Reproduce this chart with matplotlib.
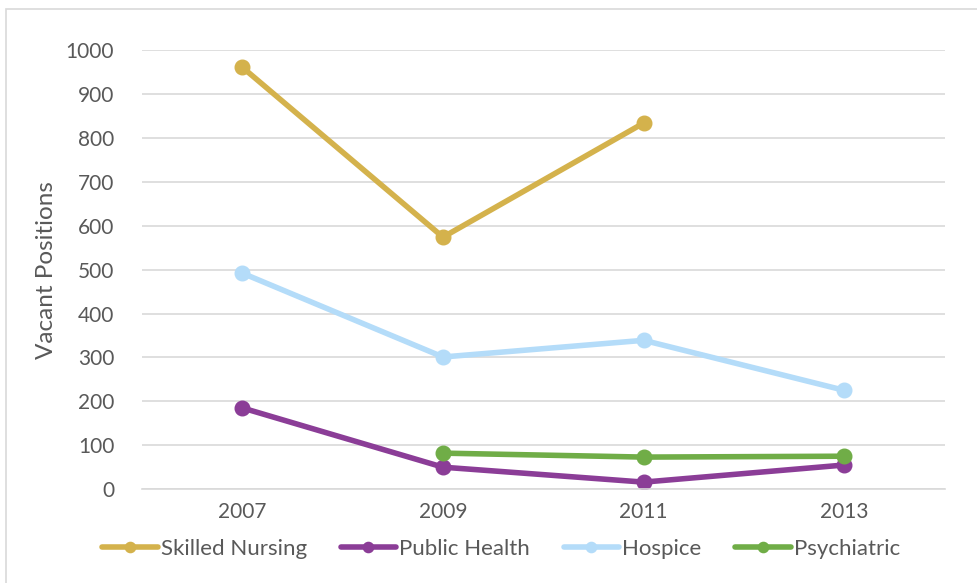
import matplotlib.pyplot as plt
from matplotlib.patches import Rectangle
import numpy as np

plt.rcParams['font.family'] = ['Lato', 'DejaVu Sans']

years = ['2007', '2009', '2011', '2013']
skilled_nursing = [961, 574, 834, None]
public_health = [185, 50, 16, 55]
hospice = [492, 301, 339, 225]
psychiatric = [None, 82, 73, 75]

series = [
    ('Skilled Nursing', skilled_nursing, '#D4B24C'),
    ('Public Health', public_health, '#8B3D97'),
    ('Hospice', hospice, '#B4DCF9'),
    ('Psychiatric', psychiatric, '#70AD47'),
]

fig = plt.figure(figsize=(9.77, 5.83), dpi=100)
ax = fig.add_axes([0.1453, 0.161, 0.8217, 0.753])

# chart border
fig.patches.append(Rectangle((0.006, -0.01), 1.1, 0.995, transform=fig.transFigure,
                             fill=False, edgecolor='#D9D9D9', linewidth=1.2))

x = np.arange(len(years))
for name, vals, color in series:
    v = np.array([np.nan if a is None else a for a in vals], dtype=float)
    ax.plot(x, v, color=color, linewidth=4, marker='o', markersize=10.5,
            solid_capstyle='round', label=name)

ax.set_xlim(-0.5, 3.5)
ax.set_ylim(0, 1000)
ax.set_yticks(range(0, 1001, 100))
ax.set_xticks(x)
ax.set_xticklabels(years)
ax.grid(axis='y', color='#D9D9D9', linewidth=1.2)
ax.set_axisbelow(True)
for s in ['top', 'right', 'left']:
    ax.spines[s].set_visible(False)
ax.spines['bottom'].set_color('#D9D9D9')
ax.spines['bottom'].set_linewidth(1.2)
ax.tick_params(length=0, labelsize=15, colors='#595959', pad=9)
ax.tick_params(axis='y', pad=20)
ax.set_ylabel('Vacant Positions', fontsize=17.5, color='#595959', labelpad=6)

leg = fig.legend(loc='center', bbox_to_anchor=(0.513, 0.058), ncol=4, frameon=False,
                 fontsize=16, handlelength=2.5, columnspacing=1.5, handletextpad=0.15,
                 markerscale=0.7)
for t in leg.get_texts():
    t.set_color('#595959')

fig.savefig('out.png', dpi=100)
